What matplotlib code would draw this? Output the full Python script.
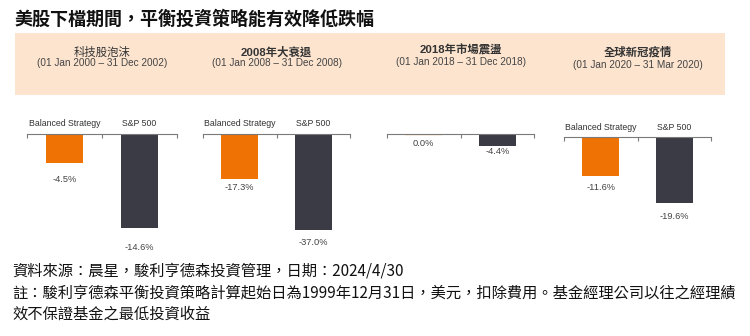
import matplotlib
matplotlib.use("Agg")
import matplotlib.pyplot as plt

# ---------------- data ----------------
title = "美股下檔期間，平衡投資策略能有效降低跌幅"
categories = ["Balanced Strategy", "S&P 500"]
period_names = ["科技股泡沫", "2008年大衰退", "2018年市場震盪", "全球新冠疫情"]
period_dates = ["(01 Jan 2000 – 31 Dec 2002)", "(01 Jan 2008 – 31 Dec 2008)",
                "(01 Jan 2018 – 31 Dec 2018)", "(01 Jan 2020 – 31 Mar 2020)"]
balanced = [-4.5, -17.3, 0.0, -11.6]
sp500 = [-14.6, -37.0, -4.4, -19.6]
show_categories = [True, True, False, True]
footnotes = ["資料來源：晨星，駿利亨德森投資管理，日期：2024/4/30",
             "註：駿利亨德森平衡投資策略計算起始日為1999年12月31日，美元，扣除費用。基金經理公司以往之經理績",
             "效不保證基金之最低投資收益"]

# ---------------- layout (pixels) ----------------
W, H = 750, 336
fig = plt.figure(figsize=(W / 100, H / 100), dpi=100)
fig.patch.set_facecolor("white")

CJK = ["Liberation Sans", "Noto Sans CJK TC", "DejaVu Sans"]
CJK_FIRST = ["Noto Sans CJK TC", "DejaVu Sans"]

def fx(x):
    return x / W

def fy(y):
    return 1 - y / H

# title
fig.text(fx(14), fy(19), title, fontsize=13.0, fontweight="bold",
         family=CJK_FIRST, color="#111111", va="center", ha="left")

# peach header band
band = plt.Rectangle((fx(15), fy(95)), fx(725) - fx(15), fy(33) - fy(95),
                     transform=fig.transFigure, facecolor="#FCE4CF",
                     edgecolor="none", zorder=0)
fig.patches.append(band)

# panels: (left px, right px, baseline px, ymin)
panels = [(27, 177, 134, -18.0),
          (203, 350, 134, -44.6),
          (387, 534, 134, -43.0),
          (564, 711, 137, -33.5)]
header_y = [(52, 63), (52, 63), (50, 62), (52, 65)]
name_weights = ["normal", "bold", "bold", "bold"]
label_offsets_px = [(16, 19), (9, 12), (10, 6), (11, 13)]

orange = "#EF7204"
dark = "#3A3B45"
bottom_px = 250

for i, (l, r, base, ymin) in enumerate(panels):
    ax = fig.add_axes([fx(l), fy(bottom_px), fx(r) - fx(l), fy(base) - fy(bottom_px)])
    ax.set_xlim(-0.5, 1.5)
    ax.set_ylim(ymin, 0)
    vals = [balanced[i], sp500[i]]
    cols = [orange, dark]
    ax.bar([0, 1], vals, width=0.5, color=cols, edgecolor=cols,
           linewidth=[1.6 if v == 0 else 0 for v in vals], zorder=2)
    for spn in ["left", "right", "bottom"]:
        ax.spines[spn].set_visible(False)
    ax.spines["top"].set_color("#7a7a7a")
    ax.spines["top"].set_linewidth(0.8)
    ax.set_yticks([])
    ax.xaxis.tick_top()
    ax.set_xticks([-0.5, 0.5, 1.5])
    ax.set_xticklabels([])
    ax.tick_params(axis="x", direction="in", length=3, width=0.8, colors="#7a7a7a")
    ax.patch.set_alpha(0)
    # category labels
    if show_categories[i]:
        for j, c in enumerate(categories):
            ax.annotate(c, xy=(j, 0), xytext=(0, 10 * 0.72), textcoords="offset points",
                        ha="center", va="center", fontsize=6.3,
                        family=["Liberation Sans"], color="#333333",
                        annotation_clip=False)
    # value labels
    for j, v in enumerate(vals):
        ax.annotate(f"{v:.1f}%", xy=(j, v),
                    xytext=(0, -label_offsets_px[i][j] * 0.72),
                    textcoords="offset points", ha="center", va="center",
                    fontsize=6.7, family=["Liberation Sans"], color="#444444",
                    annotation_clip=False)
    # header text
    cx = (l + r) / 2
    fig.text(fx(cx), fy(header_y[i][0]), period_names[i], fontsize=8.2,
             fontweight=name_weights[i], family=CJK, color="#333333",
             ha="center", va="center")
    fig.text(fx(cx), fy(header_y[i][1]), period_dates[i], fontsize=7.2,
             family=["Liberation Sans"], color="#444444", ha="center", va="center")

# footnotes
for k, (txt, y) in enumerate(zip(footnotes, [271, 293, 314])):
    fig.text(fx(12), fy(y), txt, fontsize=11.0, family=CJK_FIRST,
             color="#111111", ha="left", va="center")

fig.savefig("out.png", dpi=100, facecolor="white")
